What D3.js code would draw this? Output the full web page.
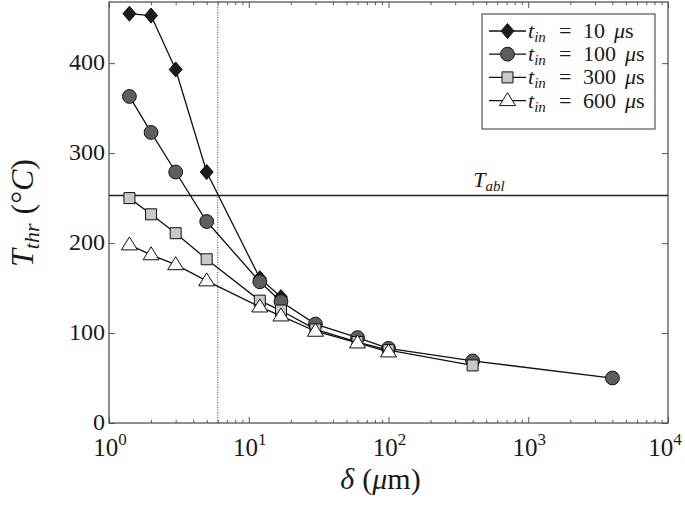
<!DOCTYPE html>
<html>
<head>
<meta charset="utf-8">
<script src="https://cdn.jsdelivr.net/npm/d3@7"></script>
<style>
  body { margin: 0; background: #fff; }
  text { font-family: "Liberation Serif", "DejaVu Serif", serif; fill: #1a1a1a; }
</style>
</head>
<body>
<div id="myPlot"></div>
<script>
// data
const delta10 = [1.4, 2, 3, 5, 12, 17];
const temp10 = [455, 453, 393, 279, 161, 140];
const delta100 = [1.4, 2, 3, 5, 12, 17, 30, 60, 100, 400, 4000];
const temp100 = [363, 323, 279, 224, 157, 135, 110, 95, 83, 69, 50];
const delta300 = [1.4, 2, 3, 5, 12, 17, 30, 60, 100, 400];
const temp300 = [250, 232, 211, 182, 136, 125, 104, 90, 81, 64];
const delta600 = [1.4, 2, 3, 5, 12, 17, 30, 60, 100];
const temp600 = [198, 187, 176, 158, 129, 119, 102, 89, 79];
const legendLabels = ["10", "100", "300", "600"];
const yTicks = [0, 100, 200, 300, 400];
const xTicks = [1, 10, 100, 1000, 10000];
const tAbl = 253;
const deltaLimit = 6;

// Set Dimensions
const W = 685, H = 515;
const mLeft = 109, mRight = 17, mTop = 2, mBottom = 92;
const width = W - mLeft - mRight;
const height = H - mTop - mBottom;

const svg = d3.select("#myPlot")
  .append("svg")
  .attr("width", W)
  .attr("height", H);

const g = svg.append("g")
  .attr("transform", "translate(" + mLeft + "," + mTop + ")");

const x = d3.scaleLog().domain([1, 10000]).range([0, width]);
const y = d3.scaleLinear().domain([0, 468]).range([height, 0]);

const axisCol = "#555";

// minor log ticks
const minors = [];
for (let d = 1; d < 10000; d *= 10) {
  for (let k = 2; k <= 9; k++) minors.push(d * k);
}

function styleAxis(sel) {
  sel.select(".domain").remove();
  sel.selectAll(".tick line").attr("stroke", axisCol).attr("stroke-width", 1);
  sel.selectAll(".tick text").remove();
}

g.append("g").attr("transform", "translate(0," + height + ")")
  .call(d3.axisBottom(x).tickValues(xTicks).tickSize(-6)).call(styleAxis);
g.append("g").attr("transform", "translate(0," + height + ")")
  .call(d3.axisBottom(x).tickValues(minors).tickSize(-3)).call(styleAxis);
g.append("g")
  .call(d3.axisTop(x).tickValues(xTicks).tickSize(-6)).call(styleAxis);
g.append("g")
  .call(d3.axisTop(x).tickValues(minors).tickSize(-3)).call(styleAxis);
g.append("g")
  .call(d3.axisLeft(y).tickValues(yTicks).tickSize(-6)).call(styleAxis);
g.append("g").attr("transform", "translate(" + width + ",0)")
  .call(d3.axisRight(y).tickValues(yTicks).tickSize(-6)).call(styleAxis);

// frame
g.append("rect")
  .attr("x", 0).attr("y", 0)
  .attr("width", width).attr("height", height)
  .attr("fill", "none")
  .attr("stroke", axisCol)
  .attr("stroke-width", 1.3);

// y tick labels
g.selectAll(".ylab")
  .data(yTicks).enter()
  .append("text")
  .attr("x", -4)
  .attr("y", d => y(d) + 7)
  .attr("text-anchor", "end")
  .style("font-size", "24px")
  .text(d => d);

// x tick labels 10^n
const xl = g.selectAll(".xlab")
  .data(xTicks).enter()
  .append("text")
  .attr("x", (d, i) => x(d) + (i === xTicks.length - 1 ? -3 : 1))
  .attr("y", height + 33)
  .attr("text-anchor", "middle")
  .style("font-size", "25px");
xl.append("tspan").text("10");
xl.append("tspan").attr("dy", -11).style("font-size", "17px")
  .text(d => Math.round(Math.log10(d)));

// axis titles
const xt = svg.append("text")
  .attr("x", mLeft + width / 2 - 8)
  .attr("y", 489)
  .attr("text-anchor", "middle")
  .style("font-size", "30px");
xt.append("tspan").style("font-style", "italic").text("δ");
xt.append("tspan").attr("dx", 8).text("(");
xt.append("tspan").style("font-style", "italic").text("μ");
xt.append("tspan").text("m)");

const yt = svg.append("text")
  .attr("transform", "translate(33,213) rotate(-90)")
  .attr("text-anchor", "middle")
  .style("font-size", "32px");
yt.append("tspan").style("font-style", "italic").text("T");
yt.append("tspan").style("font-style", "italic").style("font-size", "22px")
  .attr("dy", 6).text("thr");
yt.append("tspan").attr("dy", -6).attr("dx", 9).text("(°");
yt.append("tspan").style("font-style", "italic").text("C");
yt.append("tspan").text(")");

// reference lines
g.append("line")
  .attr("x1", x(deltaLimit)).attr("x2", x(deltaLimit))
  .attr("y1", 0).attr("y2", height)
  .attr("stroke", "#444")
  .attr("stroke-width", 1)
  .attr("stroke-dasharray", "1,1.5");

g.append("line")
  .attr("x1", 0).attr("x2", width)
  .attr("y1", y(tAbl)).attr("y2", y(tAbl))
  .attr("stroke", "#222")
  .attr("stroke-width", 1.5);

const ta = g.append("text")
  .attr("x", 380)
  .attr("y", y(tAbl) - 8)
  .attr("text-anchor", "middle")
  .style("font-size", "22px");
ta.append("tspan").style("font-style", "italic").text("T");
ta.append("tspan").style("font-style", "italic").style("font-size", "15px")
  .attr("dy", 4).text("abl");

// series
const series = [
  { xs: delta10, ys: temp10, shape: "diamond", fill: "#1c1c1c" },
  { xs: delta100, ys: temp100, shape: "circle", fill: "#5e5e5e" },
  { xs: delta300, ys: temp300, shape: "square", fill: "#c9c9c9" },
  { xs: delta600, ys: temp600, shape: "triangle", fill: "#ffffff" }
];

function markerPath(shape) {
  if (shape === "diamond") return "M0,-7.5L6.5,0L0,7.5L-6.5,0Z";
  if (shape === "square") return "M-5.5,-5.5H5.5V5.5H-5.5Z";
  if (shape === "triangle") return "M0,-8L8,5L-8,5Z";
  return d3.symbol(d3.symbolCircle, 150)();
}

const line = d3.line()
  .x(d => x(d[0]))
  .y(d => y(d[1]));

series.forEach(s => {
  const pts = s.xs.map((d, i) => [d, s.ys[i]]);
  g.append("path")
    .datum(pts)
    .attr("d", line)
    .attr("fill", "none")
    .attr("stroke", "#111")
    .attr("stroke-width", 1.3);
  g.append("g")
    .selectAll("path")
    .data(pts).enter()
    .append("path")
    .attr("d", markerPath(s.shape))
    .attr("transform", d => "translate(" + x(d[0]) + "," + y(d[1]) + ")")
    .attr("fill", s.fill)
    .attr("stroke", "#111")
    .attr("stroke-width", 1);
});

// legend
const lg = svg.append("g").attr("transform", "translate(482,14)");
lg.append("rect")
  .attr("width", 173).attr("height", 115)
  .attr("fill", "#fff")
  .attr("stroke", axisCol)
  .attr("stroke-width", 1.2);

series.forEach((s, i) => {
  const ly = 17 + i * 23.2;
  lg.append("line")
    .attr("x1", 7).attr("x2", 44)
    .attr("y1", ly).attr("y2", ly)
    .attr("stroke", "#111").attr("stroke-width", 1.3);
  lg.append("path")
    .attr("d", markerPath(s.shape))
    .attr("transform", "translate(25.5," + ly + ")")
    .attr("fill", s.fill)
    .attr("stroke", "#111")
    .attr("stroke-width", 1);
  const t = lg.append("text")
    .attr("x", 46)
    .attr("y", ly + 7)
    .style("font-size", "22px");
  t.append("tspan").style("font-style", "italic").text("t");
  t.append("tspan").style("font-style", "italic").style("font-size", "15px")
    .attr("dy", 4).text("in");
  t.append("tspan").attr("dy", -4).attr("x", 77).text("=");
  t.append("tspan").attr("x", 101).text(legendLabels[i]);
  t.append("tspan").attr("dx", 9).style("font-style", "italic").text("μ");
  t.append("tspan").text("s");
});
</script>
</body>
</html>
